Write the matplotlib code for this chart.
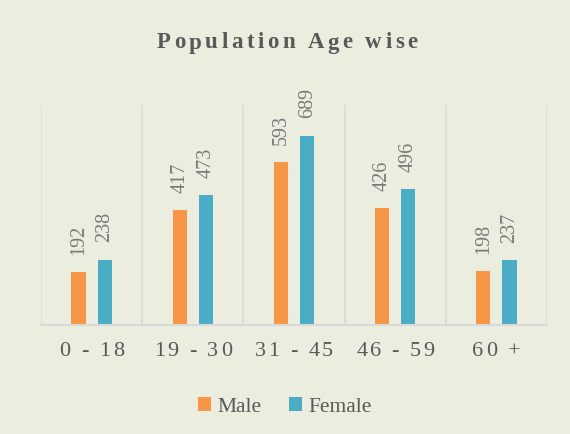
import matplotlib.pyplot as plt
import numpy as np

categories = ["0 - 18", "19 - 30", "31 - 45", "46 - 59", "60 +"]
male = [192, 417, 593, 426, 198]
female = [238, 473, 689, 496, 237]
title = "Population Age wise"

bg = "#EBEEDF"
orange = "#F79646"
blue = "#4BACC6"
txt = "#595959"

plt.rcParams['font.family'] = ['Liberation Serif', 'DejaVu Serif']

W, H = 570, 434
fig = plt.figure(figsize=(W / 100, H / 100), dpi=100, facecolor=bg)
ax = fig.add_axes([41 / W, 1 - 325 / H, 506 / W, 220 / H], facecolor=bg)
renderer = fig.canvas.get_renderer()


def tracked(xc, yc, s, track, **kw):
    """draw s centred at pixel (xc, yc from top) with extra px between letters"""
    widths = []
    for ch in s:
        if ch == " ":
            t = fig.text(0, 0, "a a", **kw)
            t2 = fig.text(0, 0, "aa", **kw)
            w = t.get_window_extent(renderer).width - t2.get_window_extent(renderer).width
            t.remove()
            t2.remove()
        else:
            t = fig.text(0, 0, ch, **kw)
            w = t.get_window_extent(renderer).width
            t.remove()
        widths.append(w)
    total = sum(widths) + track * (len(s) - 1)
    x0 = xc - total / 2
    for ch, w in zip(s, widths):
        if ch != " ":
            fig.text(x0 / W, 1 - yc / H, ch, ha="left", va="center", **kw)
        x0 += w + track


x = np.arange(len(categories))
w = 0.14
off = 0.13
ax.bar(x - off, male, w, color=orange, label="Male")
ax.bar(x + off, female, w, color=blue, label="Female")

for xi, m, f in zip(x, male, female):
    ax.text(xi - off, m + 62, str(m), rotation=90, ha="center", va="bottom",
            fontsize=14.5, color="#7A7A7A")
    ax.text(xi + off, f + 62, str(f), rotation=90, ha="center", va="bottom",
            fontsize=14.5, color="#7A7A7A")

ax.set_xlim(-0.5, len(categories) - 0.5)
ax.set_ylim(0, 800)
ax.set_yticks([])
ax.set_xticks([])
for b in np.arange(-0.5, len(categories), 1.0):
    ax.axvline(b, color="#D9D9D9", lw=1.2, zorder=0)
for s in ["top", "right", "left"]:
    ax.spines[s].set_visible(False)
ax.spines["bottom"].set_color("#D9D9D9")
ax.spines["bottom"].set_linewidth(1.5)

# category labels with letter spacing
for i, c in enumerate(categories):
    xc = 41 + (i + 0.5) * 506 / len(categories)
    tracked(xc, 352, c, 2.5, fontsize=16, color=txt)

tracked(W / 2 + 2, 43, title, 3.5, fontsize=16.5, fontweight="bold", color=txt)

fig.legend(loc="center", bbox_to_anchor=(0.5, 1 - 407 / H), ncol=2, frameon=False,
           fontsize=15.5, handlelength=0.6, handleheight=0.6, handletextpad=0.3,
           columnspacing=1.3, labelcolor=txt)

fig.savefig("out.png", dpi=100, facecolor=bg)
